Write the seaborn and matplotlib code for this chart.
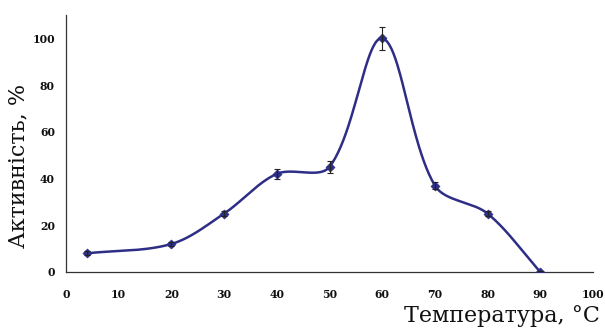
import numpy as np
import pandas as pd
import matplotlib
matplotlib.use("Agg")
import matplotlib.pyplot as plt
import seaborn as sns

temps = [4, 20, 30, 40, 50, 60, 70, 80, 90]
activity = [8, 12, 25, 42, 45, 100, 37, 25, 0]
errors = [0.8, 1.0, 1.2, 2.2, 2.5, 5.0, 1.5, 1.0, 0.5]
xticks = [0, 10, 20, 30, 40, 50, 60, 70, 80, 90, 100]
yticks = [0, 20, 40, 60, 80, 100]

color = "#2E2E86"

# pixel scale of the axes (for length-weighted, Excel-like smoothing)
SX = 5.27
SY = 2.34

def smooth(xs, ys, n=50):
    xs = np.asarray(xs, float); ys = np.asarray(ys, float)
    P = np.column_stack([xs, ys])
    Ps = np.column_stack([xs * SX, ys * SY])
    m = len(P)
    def seglen(a, b):
        if a < 0 or b >= m:
            return 0.0
        return float(np.hypot(*(Ps[b] - Ps[a])))
    outx, outy = [], []
    t = np.linspace(0, 1, n)
    for i in range(m - 1):
        p0, p3 = P[i], P[i + 1]
        if i > 0:
            lp, ln = seglen(i - 1, i), seglen(i, i + 1)
            p1 = p0 + (P[i + 1] - P[i - 1]) * ((1 / 3) * ln / (lp + ln))
        else:
            p1 = p0 + (P[1] - P[0]) / 3
        j = i + 1
        if j < m - 1:
            lp2, ln2 = seglen(j - 1, j), seglen(j, j + 1)
            p2 = p3 - (P[j + 1] - P[j - 1]) * ((1 / 3) * lp2 / (lp2 + ln2))
        else:
            p2 = p3 - (P[-1] - P[-2]) / 3
        bz = ((1 - t) ** 3)[:, None] * p0 + (3 * (1 - t) ** 2 * t)[:, None] * p1 \
            + (3 * (1 - t) * t ** 2)[:, None] * p2 + (t ** 3)[:, None] * p3
        outx.extend(bz[:, 0]); outy.extend(bz[:, 1])
    return np.array(outx), np.array(outy)

sns.set_theme(style="white")
plt.rcParams['font.family'] = ['DejaVu Serif', 'Liberation Serif']
plt.rcParams['text.color'] = '#111111'
plt.rcParams['xtick.color'] = '#111111'
plt.rcParams['ytick.color'] = '#111111'

fig = plt.figure(figsize=(6.05, 3.29), dpi=100)
ax = fig.add_axes([66/605, 1-272/329, (593-66)/605, (272-15)/329])

sx, sy = smooth(temps, activity)
curve = pd.DataFrame({"t": sx, "a": sy})
sns.lineplot(data=curve, x="t", y="a", ax=ax, color=color, lw=1.8, sort=False, estimator=None)
df = pd.DataFrame({"t": temps, "a": activity})
sns.scatterplot(data=df, x="t", y="a", ax=ax, color=color, marker="D", s=22, edgecolor=color, zorder=3)
ax.errorbar(temps, activity, yerr=errors, fmt="none", ecolor="#222222", elinewidth=0.8,
            capsize=2.5, capthick=0.8, zorder=4)

ax.set_xlim(0, 100)
ax.set_ylim(0, 110)
ax.set_xticks(xticks)
ax.set_yticks(yticks)
ax.set_xticklabels([str(v) for v in xticks], fontsize=7.8, fontweight="bold")
ax.set_yticklabels([str(v) for v in yticks], fontsize=7.8, fontweight="bold")
ax.set_xlabel(""); ax.set_ylabel("")
for s in ["top", "right"]:
    ax.spines[s].set_visible(False)
for s in ["left", "bottom"]:
    ax.spines[s].set_color("#333333")
    ax.spines[s].set_linewidth(0.9)
ax.tick_params(axis="y", direction="out", length=4, width=0.9, color="#333333", labelcolor="#111111", pad=4)
ax.tick_params(axis="x", direction="inout", length=6, width=0.9, color="#333333", labelcolor="#111111", pad=9)

fig.text(18/605, 1-166/329, "Активність, %", rotation=90, fontsize=16, ha="center", va="center", color="#111111")
fig.text(600/605, 1-316/329, "Температура, °C", fontsize=16, ha="right", va="center", color="#111111")

fig.savefig("out.png", dpi=100)
